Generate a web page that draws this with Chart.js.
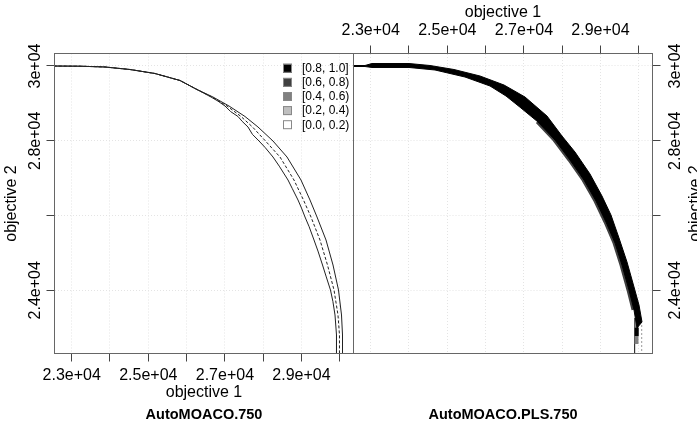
<!DOCTYPE html>
<html><head><meta charset="utf-8">
<script src="https://cdn.jsdelivr.net/npm/chart.js@4/dist/chart.umd.min.js"></script>
<style>
html,body{margin:0;padding:0;background:#fff;width:697px;height:427px;overflow:hidden}
#c1{position:absolute;left:0;top:0}
#c2{position:absolute;left:340px;top:0}
</style></head><body>
<canvas id="c1" width="360" height="427"></canvas>
<canvas id="c2" width="357" height="427"></canvas>
<script>
// ---------- data ----------
const xTicks = [23000, 24000, 25000, 26000, 27000, 28000, 29000, 30000];
const xTickLabels = ['2.3e+04', '', '2.5e+04', '', '2.7e+04', '', '2.9e+04', ''];
const yTicks = [24000, 26000, 28000, 30000];
const yTickLabels = ['2.4e+04', '', '2.8e+04', '3e+04'];
const xRange = [22551, 30358];
const yRange = [22309, 30334];
const panelTitles = ['AutoMOACO.750', 'AutoMOACO.PLS.750'];
const axisTitles = ['objective 1', 'objective 2'];
const legendLabels = ['[0.8, 1.0]', '[0.6, 0.8)', '[0.4, 0.6)', '[0.2, 0.4)', '[0.0, 0.2)'];
const legendColors = ['#000000', '#404040', '#808080', '#bfbfbf', '#ffffff'];

// left panel (AutoMOACO.750): best / median / worst attainment surfaces
const curveY  = [30000, 29994, 29973, 29906, 29799, 29612, 29384, 29170, 28930, 28649, 28368, 27993, 27565, 26950, 26415, 25960, 25345, 24676, 24008, 23339, 22804, 22150];
const bestX   = [22400, 23217, 23870, 24522, 25175, 25828, 26246, 26689, 27107, 27525, 27864, 28256, 28622, 28987, 29222, 29405, 29640, 29823, 29966, 30045, 30071, 30071];
const medianX = [22400, 23217, 23870, 24522, 25175, 25828, 26246, 26663, 27055, 27421, 27721, 28060, 28439, 28804, 29052, 29248, 29483, 29679, 29849, 29953, 29992, 29992];
const worstX  = [22400, 23217, 23870, 24522, 25175, 25828, 26246, 26637, 26820, 27003, 27150, 27342, 27450, 27603, 27720, 27891, 28050, 28256, 28420, 28648, 28760, 28909, 29000, 29092, 29200, 29327, 29430, 29549, 29640, 29757, 29820, 29875, 29914, 29914];
const worstY  = [30000, 29994, 29973, 29906, 29799, 29612, 29384, 29170, 29060, 28930, 28780, 28649, 28520, 28368, 28170, 27993, 27820, 27565, 27320, 26950, 26720, 26415, 26200, 25960, 25700, 25345, 25050, 24676, 24380, 24008, 23700, 23339, 22804, 22150];

// right panel (AutoMOACO.PLS.750): [0.8,1.0] band outline (outer edge, then inner edge back)
const bandX = [22400, 22851, 23034, 24000, 24548, 25175, 25854, 26481, 27029, 27603, 27995, 28334, 28726, 29039, 29274, 29483, 29692, 29875, 30005, 30084,
               29953, 29875, 29744, 29562, 29379, 29144, 28883, 28569, 28204, 27812, 27368, 26924, 26533, 26115, 25462, 24679, 24000, 23034, 22851, 22400];
const bandY = [30013, 30013, 30066, 30066, 30013, 29906, 29732, 29491, 29170, 28662, 28127, 27699, 27111, 26522, 26014, 25399, 24757, 24088, 23606, 23152,
               22991, 23473, 24008, 24676, 25265, 25827, 26388, 26950, 27485, 28020, 28502, 28876, 29197, 29465, 29705, 29893, 29960, 29960, 29986, 29986];
// [0.6,0.8) fringe on the inner side
const fringeX = [29849, 29718, 29536, 29353, 29118, 28857, 28543, 28178, 27786, 27342];
const fringeY = [23473, 24008, 24676, 25265, 25827, 26388, 26950, 27485, 28020, 28502];
// lower tail
const tailGrayX = [29940, 29940];   const tailGrayY = [23259, 22560];
const tailBlackX = [29945, 29945];  const tailBlackY = [23000, 22780];
const tailWorstX = [29890, 29890];  const tailWorstY = [23259, 22100];
const tailBestX = [30076, 30076];   const tailBestY = [23071, 22100];

// ---------- helpers ----------
const FONT = '"Liberation Sans", Arial, Helvetica, sans-serif';
const pts = (xs, ys) => xs.map((x, i) => ({x: x, y: ys[i]}));
const line = (xs, ys, color, width, dash, extra) => Object.assign({
  data: pts(xs, ys), showLine: true, borderColor: color, borderWidth: width,
  borderDash: dash || [], pointRadius: 0, tension: 0, fill: false
}, extra || {});

function scaleCommon(pos, ticks, range, size) {
  return {
    type: 'linear', position: pos, min: range[0], max: range[1],
    afterBuildTicks: s => { s.ticks = ticks.map(v => ({value: v})); },
    afterFit: s => { if (s.isHorizontal()) s.height = size; else s.width = size; },
    ticks: {display: false},
    grid: {color: '#e4e4e4', lineWidth: 1, tickColor: '#444', tickLength: 8, drawTicks: true},
    border: {display: false, dash: [1, 2]}
  };
}

function rotText(ctx, txt, x, y, baseline) {
  ctx.save(); ctx.translate(x, y); ctx.rotate(-Math.PI / 2);
  ctx.textBaseline = baseline; ctx.fillText(txt, 0, 0); ctx.restore();
}

const leftText = {
  id: 'leftText',
  afterDraw(chart) {
    const ctx = chart.ctx, a = chart.chartArea, xs = chart.scales.x, ys = chart.scales.y;
    ctx.save();
    ctx.strokeStyle = '#666'; ctx.lineWidth = 1;
    ctx.strokeRect(a.left, a.top, a.right - a.left, a.bottom - a.top);
    ctx.fillStyle = '#000'; ctx.textAlign = 'center'; ctx.font = '16px ' + FONT;
    ctx.textBaseline = 'middle';
    xTicks.forEach((v, i) => { if (xTickLabels[i]) ctx.fillText(xTickLabels[i], xs.getPixelForValue(v), 376); });
    ctx.fillText(axisTitles[0], (a.left + a.right) / 2, 393);
    yTicks.forEach((v, i) => { if (yTickLabels[i]) rotText(ctx, yTickLabels[i], 36, ys.getPixelForValue(v), 'middle'); });
    rotText(ctx, axisTitles[1], 15.5, (a.top + a.bottom) / 2, 'alphabetic');
    ctx.font = 'bold 14.5px ' + FONT;
    ctx.fillText(panelTitles[0], (a.left + a.right) / 2, 415);
    // legend
    ctx.font = '12px ' + FONT; ctx.textAlign = 'left';
    legendLabels.forEach((lab, i) => {
      const cy = 68.3 + i * 14.1;
      ctx.fillStyle = legendColors[i];
      ctx.fillRect(283, cy - 4.5, 9, 9);
      ctx.strokeStyle = '#888'; ctx.strokeRect(283.5, cy - 4, 8, 8);
      ctx.fillStyle = '#000';
      ctx.fillText(lab, 302, cy + 0.5);
    });
    ctx.restore();
  }
};

const rightText = {
  id: 'rightText',
  afterDraw(chart) {
    const ctx = chart.ctx, a = chart.chartArea, xs = chart.scales.x, ys = chart.scales.y;
    ctx.save();
    ctx.strokeStyle = '#666'; ctx.lineWidth = 1;
    ctx.strokeRect(a.left, a.top, a.right - a.left, a.bottom - a.top);
    ctx.fillStyle = '#000'; ctx.textAlign = 'center'; ctx.font = '16px ' + FONT;
    ctx.textBaseline = 'middle';
    xTicks.forEach((v, i) => { if (xTickLabels[i]) ctx.fillText(xTickLabels[i], xs.getPixelForValue(v), 30.5); });
    ctx.fillText(axisTitles[0], (a.left + a.right) / 2, 12.5);
    yTicks.forEach((v, i) => { if (yTickLabels[i]) rotText(ctx, yTickLabels[i], 335.3, ys.getPixelForValue(v), 'middle'); });
    rotText(ctx, axisTitles[1], 360, (a.top + a.bottom) / 2, 'alphabetic');
    ctx.font = 'bold 14.5px ' + FONT;
    ctx.fillText(panelTitles[1], (a.left + a.right) / 2, 415);
    ctx.restore();
  }
};

const baseOpts = (xPos, yPos, xSize, ySize, padding) => ({
  responsive: false, animation: false, devicePixelRatio: 1,
  layout: {padding: padding},
  plugins: {legend: {display: false}, tooltip: {enabled: false}, title: {display: false}},
  scales: {
    x: scaleCommon(xPos, xTicks, xRange, xSize),
    y: scaleCommon(yPos, yTicks, yRange, ySize)
  }
});

new Chart(document.getElementById('c1'), {
  type: 'scatter',
  data: {datasets: [
    line(bestX, curveY, '#222', 1),
    line(medianX, curveY, '#222', 1, [3, 2]),
    line(worstX, worstY, '#222', 1)
  ]},
  options: baseOpts('bottom', 'left', 73.5, 54.5, {top: 53.5, right: 6.5, bottom: 0, left: 0}),
  plugins: [leftText]
});

new Chart(document.getElementById('c2'), {
  type: 'scatter',
  data: {datasets: [
    line(tailBlackX, tailBlackY, '#000', 4),
    line(bandX, bandY, '#000', 1, null, {fill: 'shape', backgroundColor: '#000'}),
    line(fringeX, fringeY, '#404040', 3),
    line(tailGrayX, tailGrayY, '#808080', 4),
    line(tailWorstX, tailWorstY, '#333', 1),
    line(tailBestX, tailBestY, '#999', 1, [2, 2])
  ]},
  options: baseOpts('top', 'right', 53.5, 44.5, {top: 0, right: 0, bottom: 73.5, left: 13.5}),
  plugins: [rightText]
});
</script>
</body></html>
